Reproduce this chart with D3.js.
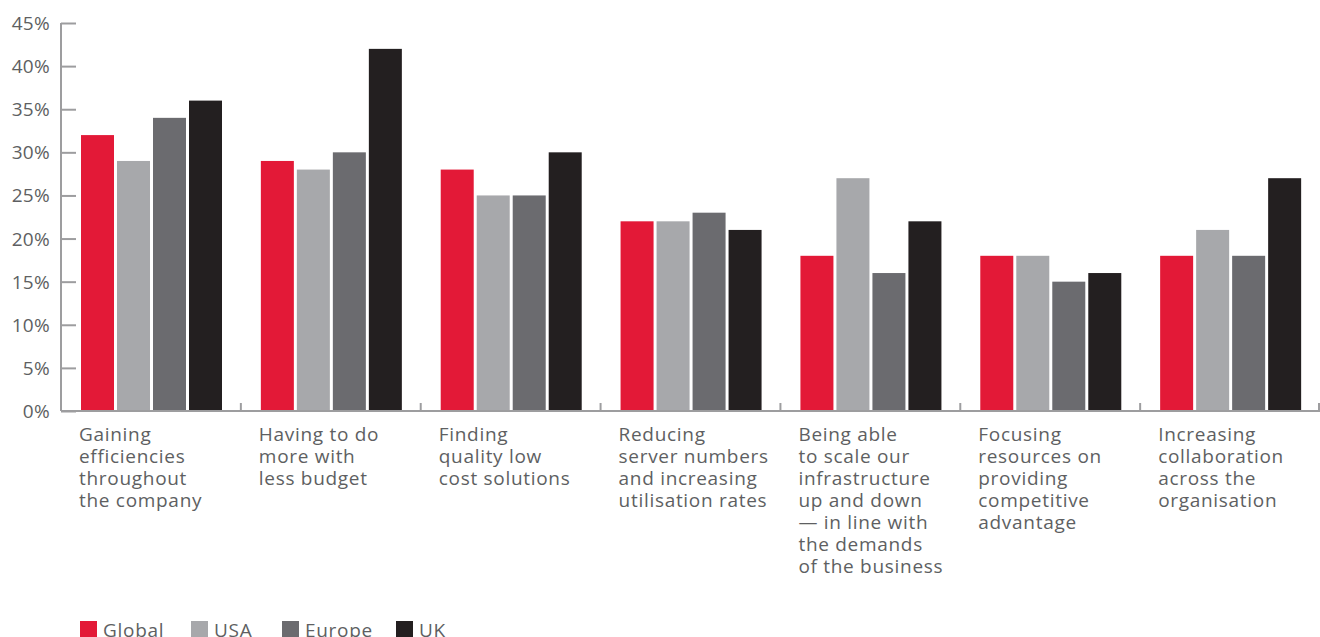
<!DOCTYPE html>
<html>
<head>
<meta charset="utf-8">
<script src="https://cdn.jsdelivr.net/npm/d3@7"></script>
<style>
  html, body { margin: 0; padding: 0; background: #fff; }
  svg { display: block; }
  text { font-family: "Open Sans", "Noto Sans", sans-serif; fill: #5e5f62; letter-spacing: 0.7px; }
</style>
</head>
<body>
<svg id="chart" width="1320" height="637"></svg>
<script>
// Survey categories (multi-line labels)
const categories = [
  ["Gaining", "efficiencies", "throughout", "the company"],
  ["Having to do", "more with", "less budget"],
  ["Finding", "quality low", "cost solutions"],
  ["Reducing", "server numbers", "and increasing", "utilisation rates"],
  ["Being able", "to scale our", "infrastructure", "up and down", "\u2014 in line with", "the demands", "of the business"],
  ["Focusing", "resources on", "providing", "competitive", "advantage"],
  ["Increasing", "collaboration", "across the", "organisation"]
];

const seriesNames = ["Global", "USA", "Europe", "UK"];
const globalValues = [32, 29, 28, 22, 18, 18, 18];
const usaValues    = [29, 28, 25, 22, 27, 18, 21];
const europeValues = [34, 30, 25, 23, 16, 15, 18];
const ukValues     = [36, 42, 30, 21, 22, 16, 27];
const yTicks = [0, 5, 10, 15, 20, 25, 30, 35, 40, 45];

const seriesValues = [globalValues, usaValues, europeValues, ukValues];
const colors = ["#e31937", "#a7a8ab", "#6b6b6f", "#231f20"];

const svg = d3.select("#chart");
const plotLeft = 61, plotRight = 1320, plotTop = 23, plotBottom = 411;

const x = d3.scaleBand()
  .domain(d3.range(categories.length))
  .range([plotLeft, plotRight]);

// Four bars per category, 33px wide with 3px gaps
const inner = d3.scaleBand()
  .domain(d3.range(seriesNames.length))
  .range([20, 161])
  .paddingInner(3 / 36);

const y = d3.scaleLinear().domain([0, 45]).range([plotBottom, plotTop]);

// Bars
seriesNames.forEach((name, s) => {
  svg.append("g")
    .selectAll("rect")
    .data(seriesValues[s])
    .join("rect")
    .attr("x", (d, i) => x(i) + inner(s))
    .attr("y", d => y(d))
    .attr("width", inner.bandwidth())
    .attr("height", d => y(0) - y(d))
    .attr("fill", colors[s]);
});

// Y axis
const yAxis = svg.append("g").attr("transform", `translate(${plotLeft},0)`)
  .call(d3.axisRight(y).tickValues(yTicks).tickSize(15).tickFormat(""));
yAxis.select(".domain").attr("stroke", "#9d9d9f").attr("stroke-width", 2).attr("d", `M0,${plotTop}V${plotBottom}`);
yAxis.selectAll(".tick line").attr("stroke", "#9d9d9f").attr("stroke-width", 2);

svg.append("g").selectAll("text")
  .data(yTicks)
  .join("text")
  .attr("x", 50)
  .attr("y", d => y(d) + 7)
  .attr("text-anchor", "end")
  .attr("font-size", 19)
  .style("letter-spacing", "0.3px")
  .text(d => d + "%");

// Baseline with category separators
const xAxis = svg.append("g").attr("transform", `translate(0,${plotBottom})`)
  .call(d3.axisTop(x).tickValues(d3.range(1, categories.length + 1)).tickSize(8).tickFormat(""));
xAxis.select(".domain").attr("stroke", "#9d9d9f").attr("stroke-width", 2).attr("d", `M${plotLeft},0H${plotRight}`);
xAxis.selectAll(".tick")
  .attr("transform", d => `translate(${d < categories.length ? x(d) : plotRight - 1},0)`);
xAxis.selectAll(".tick line").attr("stroke", "#9d9d9f").attr("stroke-width", 2);

// Category labels, one text element per line
categories.forEach((lines, i) => {
  svg.append("g")
    .selectAll("text")
    .data(lines)
    .join("text")
    .attr("x", x(i) + 18)
    .attr("y", (d, j) => 441 + j * 22)
    .attr("font-size", 19)
    .text(d => d);
});

// Legend
const legendX = [80, 191, 282, 396];
const legend = svg.append("g");
seriesNames.forEach((name, s) => {
  legend.append("rect")
    .attr("x", legendX[s]).attr("y", 621)
    .attr("width", 17).attr("height", 17)
    .attr("fill", colors[s]);
  legend.append("text")
    .attr("x", legendX[s] + 23).attr("y", 637)
    .attr("font-size", 19)
    .text(name);
});
</script>
</body>
</html>
